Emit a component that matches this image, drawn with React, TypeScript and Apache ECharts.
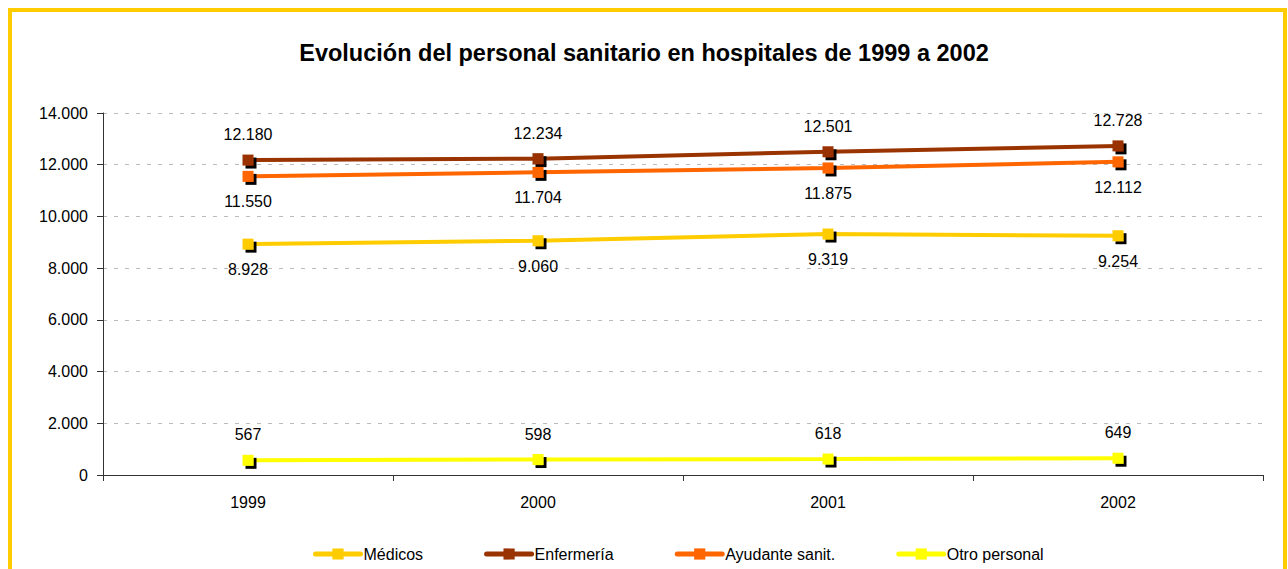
import React, { useEffect, useRef } from "react";
import * as echarts from "echarts";

const years = ["1999", "2000", "2001", "2002"];
const medicos = [8928, 9060, 9319, 9254];
const enfermeria = [12180, 12234, 12501, 12728];
const ayudante = [11550, 11704, 11875, 12112];
const otro = [567, 598, 618, 649];
const seriesNames = ["Médicos", "Enfermería", "Ayudante sanit.", "Otro personal"];

const fmt = (v: number) => {
  const s = String(Math.round(v));
  return s.replace(/\B(?=(\d{3})+(?!\d))/g, ".");
};

const FONT = "'Liberation Sans', Arial, sans-serif";

function mk(name: string, data: number[], color: string, pos: string) {
  return {
    name,
    type: "line",
    data,
    symbol: "rect",
    symbolSize: 11,
    lineStyle: { color, width: 4 },
    itemStyle: {
      color,
      shadowColor: "#000",
      shadowOffsetX: 3,
      shadowOffsetY: 3,
      shadowBlur: 0,
    },
    label: {
      show: true,
      position: pos,
      distance: 12,
      formatter: (p: any) => fmt(p.value),
      color: "#000",
      fontFamily: FONT,
      fontSize: 16,
    },
  };
}

export default function App() {
  const ref = useRef<HTMLDivElement>(null);
  useEffect(() => {
    const chart = echarts.init(ref.current!, null, { renderer: "svg" });
    chart.setOption({
      animation: false,
      backgroundColor: "#fff",
      title: {
        text: "Evolución del personal sanitario en hospitales de 1999 a 2002",
        left: "center",
        top: 36,
        textStyle: { fontFamily: FONT, fontSize: 23.5, fontWeight: "bold", color: "#000" },
      },
      graphic: [
        {
          type: "rect",
          shape: { x: 10, y: 10, width: 1275, height: 600 },
          style: { fill: "none", stroke: "#FFCC00", lineWidth: 4 },
          silent: true,
        },
      ],
      legend: {
        top: 546,
        left: 313,
        padding: 0,
        itemGap: 61,
        itemWidth: 45,
        itemHeight: 14,
        lineStyle: { width: 5, cap: "round" },
        itemStyle: { shadowBlur: 0, shadowOffsetX: 0, shadowOffsetY: 0, shadowColor: "transparent" },
        textStyle: { fontFamily: FONT, fontSize: 16, color: "#000", padding: [0, 0, 0, -2] },
        data: seriesNames,
      },
      grid: { left: 103, right: 25, top: 113, bottom: 94 },
      xAxis: {
        type: "category",
        data: years,
        boundaryGap: true,
        axisLine: { lineStyle: { color: "#333", width: 1 } },
        axisTick: { show: true, length: 6, lineStyle: { color: "#333" } },
        axisLabel: { fontFamily: FONT, fontSize: 16, color: "#000", margin: 19 },
      },
      yAxis: {
        type: "value",
        min: 0,
        max: 14000,
        interval: 2000,
        axisLine: { show: true, lineStyle: { color: "#333" } },
        axisTick: { show: true, length: 6, lineStyle: { color: "#333" } },
        axisLabel: {
          fontFamily: FONT,
          fontSize: 16,
          color: "#000",
          margin: 15,
          formatter: (v: number) => fmt(v),
        },
        splitLine: { lineStyle: { color: "#bbb", type: [4, 7] } },
      },
      series: [
        mk(seriesNames[0], medicos, "#FFCC00", "bottom"),
        mk(seriesNames[1], enfermeria, "#993300", "top"),
        mk(seriesNames[2], ayudante, "#FF6600", "bottom"),
        mk(seriesNames[3], otro, "#FFFF00", "top"),
      ],
    });
    return () => chart.dispose();
  }, []);
  return (
    <div
      ref={ref}
      style={{ position: "absolute", left: 0, top: 0, width: 1288, height: 569 }}
    />
  );
}
